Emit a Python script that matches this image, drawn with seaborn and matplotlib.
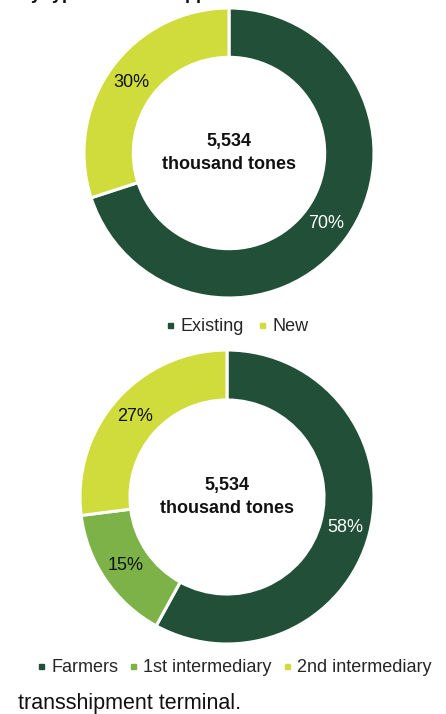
import matplotlib
matplotlib.use("Agg")
import matplotlib.pyplot as plt
import seaborn as sns
from matplotlib.lines import Line2D

sns.set_theme(style="white")
plt.rcParams["font.family"] = ["Liberation Sans", "DejaVu Sans"]

# Supply volume split by supplier type (shares in %)
origin_labels = ["Existing", "New"]
origin_values = [70, 30]

chain_labels = ["Farmers", "1st intermediary", "2nd intermediary"]
chain_values = [58, 15, 27]

total_text = "5,534\nthousand tones"
heading = "by type of direct supplier"
footnote = "transshipment terminal."

DARK = "#214f38"
MID = "#7db249"
LIGHT = "#cfdc3b"
origin_colors = [DARK, LIGHT]
chain_colors = [DARK, MID, LIGHT]
label_colors_origin = ["white", "#111111"]
label_colors_chain = ["white", "#111111", "#111111"]

W, H = 446, 714
fig = plt.figure(figsize=(W / 100, H / 100), dpi=100)


def px_axes(cx, cy, r):
    return fig.add_axes([(cx - r) / W, (H - cy - r) / H, 2 * r / W, 2 * r / H])


def donut(ax, values, colors, txt_colors):
    wedges, _, autotexts = ax.pie(
        values,
        colors=colors,
        startangle=90,
        counterclock=False,
        radius=1.0,
        autopct=lambda p: f"{p:.0f}%",
        pctdistance=0.83,
        wedgeprops=dict(width=0.34, edgecolor="white", linewidth=2.2),
        textprops=dict(fontsize=13),
    )
    for t, c in zip(autotexts, txt_colors):
        t.set_color(c)
    ax.text(0, 0.0, total_text, ha="center", va="center", fontsize=13,
            fontweight="bold", color="#111111", linespacing=1.45)
    ax.set_xlim(-1, 1)
    ax.set_ylim(-1, 1)
    ax.set_aspect("equal")
    ax.axis("off")
    return wedges


ax1 = px_axes(229, 153, 145)
donut(ax1, origin_values, origin_colors, label_colors_origin)

ax2 = px_axes(227, 497, 147)
donut(ax2, chain_values, chain_colors, label_colors_chain)


def handles(colors):
    return [Line2D([], [], linestyle="none", marker="s", markersize=3.6,
                   markerfacecolor=c, markeredgecolor=c) for c in colors]


fig.legend(handles(origin_colors), origin_labels, loc="center",
           bbox_to_anchor=(237 / W, 1 - 327 / H), ncol=2, frameon=False,
           fontsize=13, handlelength=0.5, handletextpad=0.3,
           columnspacing=0.8, borderaxespad=0)

fig.legend(handles(chain_colors), chain_labels, loc="center",
           bbox_to_anchor=(234 / W, 1 - 668 / H), ncol=3, frameon=False,
           fontsize=13, handlelength=0.5, handletextpad=0.3,
           columnspacing=0.6, borderaxespad=0)

fig.text(20 / W, 1 + 1 / H, heading, ha="left", va="baseline",
         fontsize=13, fontweight="bold", color="#111111")
fig.text(18 / W, 1 - 704 / H, footnote, ha="left", va="center",
         fontsize=15.5, color="#111111")

fig.savefig("out.png", dpi=100, facecolor="white")
